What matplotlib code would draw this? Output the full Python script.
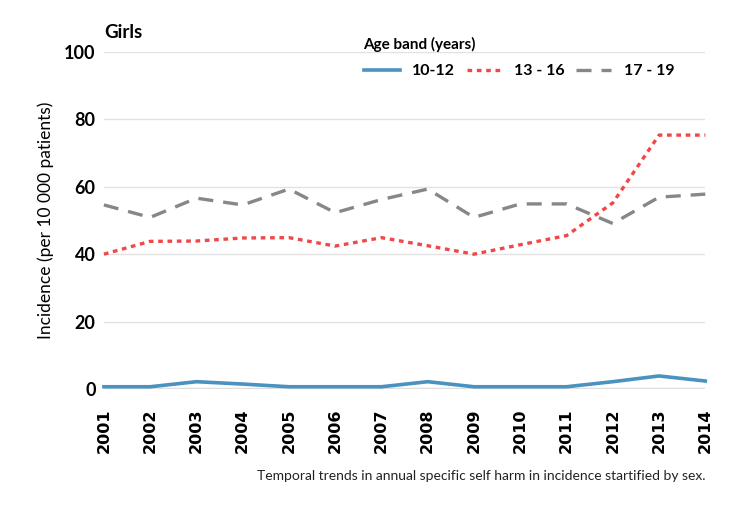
import matplotlib
matplotlib.use("Agg")
import matplotlib.pyplot as plt

# data
years = [2001, 2002, 2003, 2004, 2005, 2006, 2007, 2008, 2009, 2010, 2011, 2012, 2013, 2014]
age_10_12 = [0.7, 0.7, 2.2, 1.5, 0.7, 0.7, 0.7, 2.2, 0.7, 0.7, 0.7, 2.2, 3.9, 2.4]
age_13_16 = [40.0, 43.8, 43.9, 44.8, 44.9, 42.4, 44.9, 42.5, 40.0, 42.8, 45.5, 55.2, 75.3, 75.3]
age_17_19 = [54.6, 50.9, 56.6, 54.6, 59.3, 52.3, 56.2, 59.3, 50.9, 54.9, 54.9, 49.1, 56.9, 57.8]
labels = ["10-12", "13 - 16", "17 - 19"]

plt.rcParams["font.family"] = ["Lato", "DejaVu Sans"]

fig = plt.figure(figsize=(7.37, 5.23), dpi=100)
ax = fig.add_axes([0.141, 0.256, 0.816, 0.645])

# grid
for v in [20, 40, 60, 80, 100]:
    ax.axhline(v, color="#e2e2e2", lw=1.0, zorder=0)
ax.axhline(0, color="#dedede", lw=2.5, zorder=0)

ax.plot(years, age_10_12, color="#4a92bf", lw=2.6, label=labels[0],
        solid_joinstyle="round", clip_on=False, zorder=3)
ax.plot(years, age_13_16, color="#f04848", lw=2.4, label=labels[1],
        dashes=(1.4, 1.4), clip_on=False, zorder=3)
ax.plot(years, age_17_19, color="#878787", lw=2.4, label=labels[2],
        dashes=(4.5, 3), clip_on=False, zorder=2)

ax.set_xlim(2001, 2014)
ax.set_ylim(0, 100)
ax.set_yticks([0, 20, 40, 60, 80, 100])
ax.set_xticks(years)
ax.set_xticklabels([str(y) for y in years], rotation=90,
                   family="DejaVu Sans", fontsize=11.5, fontweight="bold")
for t in ax.get_yticklabels():
    t.set_fontsize(13)
    t.set_fontweight("bold")
ax.tick_params(length=0, pad=6)
ax.tick_params(axis="x", pad=14)
for s in ax.spines.values():
    s.set_visible(False)

ax.set_ylabel("Incidence (per 10 000 patients)", fontsize=12.5, labelpad=7)

fig.text(0.141, 0.938, "Girls", fontsize=13.5, fontweight="bold",
         ha="left", va="center")

# legend title placed on its own, entries underneath
fig.text(0.493, 1 - 44 / 523, "Age band (years)", fontsize=11,
         fontweight="bold", ha="left", va="center")
leg = fig.legend(loc="center left", bbox_to_anchor=(0.475, 1 - 71 / 523), ncol=3,
                 frameon=False, fontsize=11.5,
                 handlelength=2.2, columnspacing=0.7, handletextpad=0.8)
for t in leg.get_texts():
    t.set_fontweight("bold")

fig.text(0.957, 0.082,
         "Temporal trends in annual specific self harm in incidence startified by sex.",
         fontsize=10, ha="right", color="#222222")

fig.savefig("out.png", dpi=100)
